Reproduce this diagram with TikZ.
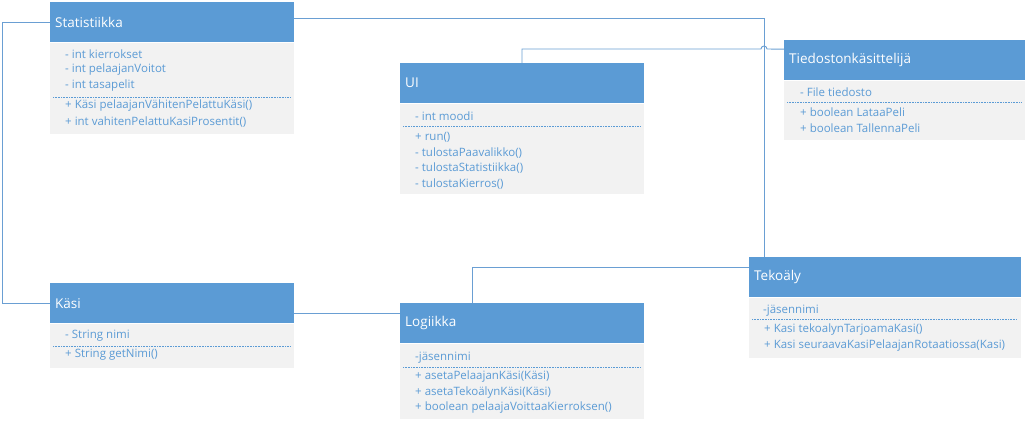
\documentclass[tikz,border=0pt]{standalone}
\usepackage{fontspec}
\setmainfont{Open Sans}
\usepackage{tikz}
\usetikzlibrary{arrows.meta}
\definecolor{umlblue}{HTML}{5B9BD5}
\definecolor{umlgray}{HTML}{F2F2F2}
\definecolor{umlline}{HTML}{6A9FD3}

\begin{document}
\begin{tikzpicture}[x=1pt,y=-1pt]
\tikzstyle{head}=[rectangle,fill=umlblue,text=white,anchor=north west,inner xsep=5pt,inner ysep=0pt,minimum height=40pt,align=left,font=\fontsize{13.5}{14}\selectfont]
\tikzstyle{body}=[rectangle,fill=umlgray,anchor=north west,inner sep=0pt]
\tikzstyle{member}=[anchor=west,inner sep=0pt,text=umlblue,font=\fontsize{11.5}{12}\selectfont]
\tikzstyle{sep}=[umlblue,line width=0.6pt,dash pattern=on 0.8pt off 0.8pt]
\tikzstyle{conn}=[umlline,line width=0.9pt]
\useasboundingbox (0,0) rectangle (1030,423);

% Statistiikka
\node[head,text width=234pt] (stat) at (50,2) {Statistiikka};
\node[body,minimum width=244pt,minimum height=91pt] (statb) at (stat.south west) {};
\foreach \t [count=\i] in {- int kierrokset,- int pelaajanVoitot,- int tasapelit}
  \node[member] at (65,38+16*\i) {\t};
\draw[sep] (53,97) -- (290,97);
\node[member] at (65,106) {+ Käsi pelaajanVähitenPelattuKäsi()};
\node[member] at (65,122) {+ int vahitenPelattuKasiProsentit()};

% UI
\node[head,text width=234pt] (ui) at (400,63) {UI};
\node[body,minimum width=244pt,minimum height=90pt] (uib) at (ui.south west) {};
\node[member] at (415,116) {- int moodi};
\draw[sep] (403,126) -- (640,126);
\foreach \t [count=\i] in {+ run(),- tulostaPaavalikko(),- tulostaStatistiikka(),- tulostaKierros()}
  \node[member] at (415,121.5+15.6*\i) {\t};

% Tiedostonkasittelija
\node[head,text width=231pt] (tied) at (784,40) {Tiedostonkäsittelijä};
\node[body,minimum width=241pt,minimum height=59pt] (tiedb) at (tied.south west) {};
\node[member] at (800,92) {- File tiedosto};
\draw[sep] (787,102) -- (1021,102);
\node[member] at (800,112) {+ boolean LataaPeli};
\node[member] at (800,128) {+ boolean TallennaPeli};

% Kasi
\node[head,text width=234pt] (kasi) at (50,283) {Käsi};
\node[body,minimum width=244pt,minimum height=44pt] (kasib) at (kasi.south west) {};
\node[member] at (65,336) {- String nimi};
\draw[sep] (53,346) -- (290,346);
\node[member] at (65,355) {+ String getNimi()};

% Logiikka
\node[head,text width=234pt] (logi) at (400,303) {Logiikka};
\node[body,minimum width=244pt,minimum height=75pt] (logib) at (logi.south west) {};
\node[member] at (415,358) {-jäsennimi};
\draw[sep] (403,367) -- (640,367);
\foreach \t [count=\i] in {+ asetaPelaajanKäsi(Käsi),+ asetaTekoälynKäsi(Käsi),+ boolean pelaajaVoittaaKierroksen()}
  \node[member] at (415,361.5+15.5*\i) {\t};

% Tekoaly
\node[head,text width=262pt] (teko) at (749,257) {Tekoäly};
\node[body,minimum width=272pt,minimum height=60pt] (tekob) at (teko.south west) {};
\node[member] at (763,311) {-jäsennimi};
\draw[sep] (752,319) -- (1017,319);
\node[member] at (764,330) {+ Kasi tekoalynTarjoamaKasi()};
\node[member] at (764,346) {+ Kasi seuraavaKasiPelaajanRotaatiossa(Kasi)};

% connectors
\coordinate (jmp) at (764,49);
\draw[conn] (stat.west) -- ++(-48,0) |- (kasi.west);
\draw[conn] ([yshift=4pt]stat.east) -| ([xshift=15pt]teko.north west);
\draw[conn] ([xshift=122pt]ui.north west) |- ([xshift=-3pt]jmp) arc[start angle=180,end angle=0,radius=3pt] -- ([yshift=11pt]tied.west);
\draw[conn] ([yshift=-10pt]kasi.east) -- ([yshift=10pt]logi.west);
\draw[conn] ([xshift=72pt]logi.north west) |- ([yshift=10pt]teko.west);
\end{tikzpicture}
\end{document}
